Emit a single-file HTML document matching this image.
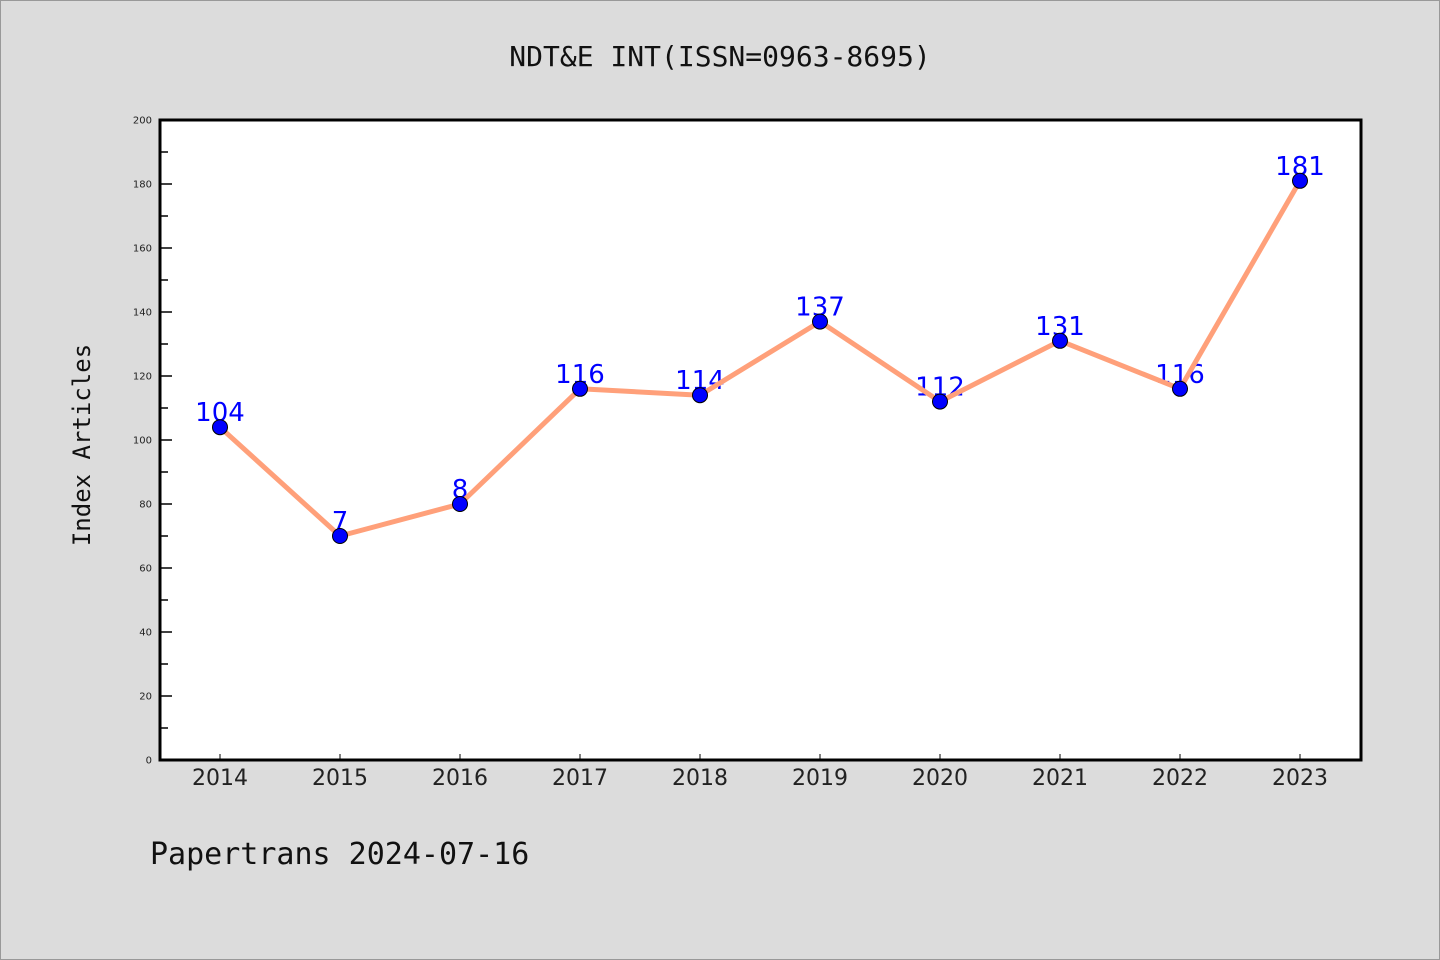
<!DOCTYPE html>
<html><head><meta charset="utf-8"><style>
body{margin:0;background:#dcdcdc;}
svg{display:block;font-family:"DejaVu Sans","Liberation Sans",sans-serif;}
</style></head><body>
<svg width="1440" height="960">
<rect x="0.5" y="0.5" width="1439" height="959" fill="#dcdcdc" stroke="#999"/>
<text x="720" y="66" text-anchor="middle" font-size="28" fill="#111" font-family="DejaVu Sans Mono, Liberation Mono, monospace">NDT&amp;E INT(ISSN=0963-8695)</text>
<rect x="160" y="120" width="1201" height="640" fill="#fff"/>
<g id="yaxis"></g>
<g id="xaxis"></g>
<g id="labels"></g>
<g id="series"></g>
<rect x="160" y="120" width="1201" height="640" fill="none" stroke="#000" stroke-width="3"/>
<text x="90" y="445" text-anchor="middle" font-size="24" fill="#111" font-family="DejaVu Sans Mono, Liberation Mono, monospace" transform="rotate(-90 90 445)">Index Articles</text>
<text x="150" y="864" font-size="30" fill="#111" font-family="DejaVu Sans Mono, Liberation Mono, monospace">Papertrans 2024-07-16</text>
</svg>
<script>
const categories=["2014","2015","2016","2017","2018","2019","2020","2021","2022","2023"];
const values=[104,70,80,116,114,137,112,131,116,181];
const valueLabels=["104","7","8","116","114","137","112","131","116","181"];
const yTicks=[0,20,40,60,80,100,120,140,160,180,200];
const NS="http://www.w3.org/2000/svg";
const x0=160,x1=1361,yTop=120,yBot=760,yMax=200;
function xs(i){return 220+i*((1300-220)/(categories.length-1));}
function ys(v){return yBot-(v/yMax)*(yBot-yTop);}
function mk(tag,attrs,parent){const e=document.createElementNS(NS,tag);for(const k in attrs)e.setAttribute(k,attrs[k]);parent.appendChild(e);return e;}
const ya=document.getElementById('yaxis'),xa=document.getElementById('xaxis'),lb=document.getElementById('labels'),se=document.getElementById('series');
yTicks.forEach((t,i)=>{
 const l=mk('line',{x1:x0,x2:x0+12,y1:ys(t),y2:ys(t),stroke:'#000','stroke-width':1.5},ya);
 
 
 const tx=mk('text',{x:x0-8,y:ys(t)+3.5,'text-anchor':'end','font-size':10,fill:'#222'},ya);
 tx.textContent=t;
 
 
 if(i<yTicks.length-1){
  const m=mk('line',{x1:x0,x2:x0+8,y1:ys(t+10),y2:ys(t+10),stroke:'#000','stroke-width':1.5},ya);
  
  
 }
});
categories.forEach((c,i)=>{
 const l=mk('line',{x1:xs(i),x2:xs(i),y1:yBot,y2:yBot-6,stroke:'#000','stroke-width':1},xa);
 
 
 const tx=mk('text',{x:xs(i),y:785,'text-anchor':'middle','font-size':22,fill:'#222'},xa);
 tx.textContent=c;
 
 
});
values.forEach((v,i)=>{
 const tx=mk('text',{x:xs(i),y:ys(v)-6,'text-anchor':'middle','font-size':26,fill:'#0000ff'},lb);
 tx.textContent=valueLabels[i];
 
 
});
const pl=mk('polyline',{points:values.map((v,i)=>xs(i)+','+ys(v)).join(' '),fill:'none',stroke:'#ffa07a','stroke-width':5,'stroke-linejoin':'round'},se);


values.forEach((v,i)=>{
 const c=mk('circle',{cx:xs(i),cy:ys(v),r:7.5,fill:'#0000ff',stroke:'#000','stroke-width':1},se);
 
 
});
</script>
</body></html>
